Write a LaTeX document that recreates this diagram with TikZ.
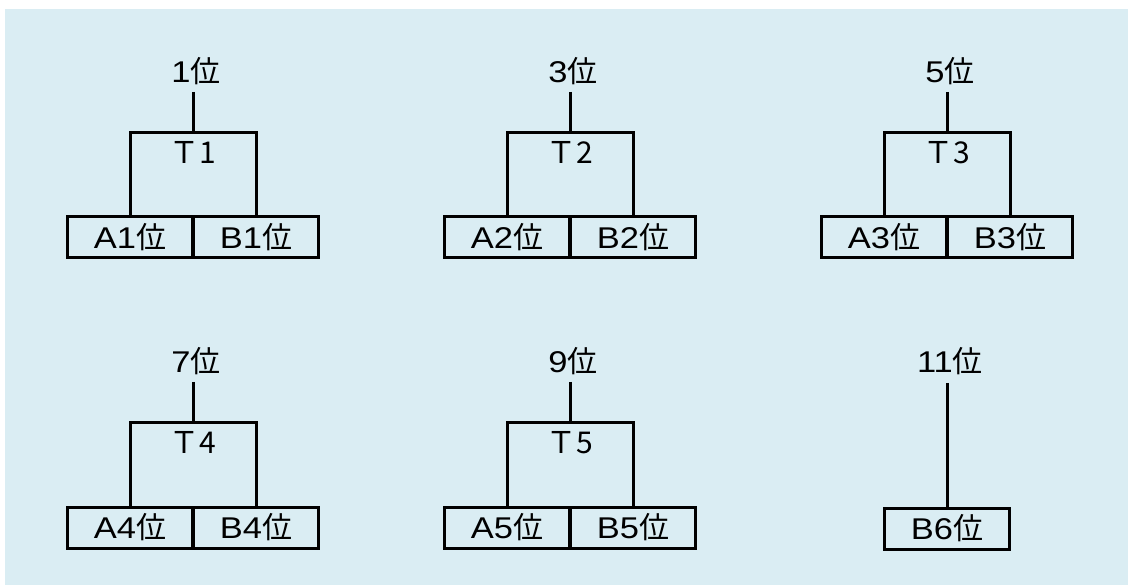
\documentclass[tikz,border=0pt]{standalone}
\usepackage{fontspec}
\setmainfont{Liberation Sans}[FakeStretch=1.15]
\newfontfamily\jp{Noto Sans CJK JP}
\definecolor{bgblue}{RGB}{218,237,243}
\tikzset{
  lbl/.style={inner sep=0pt, text height=21.5pt, text depth=0pt, font=\fontsize{30}{33}\selectfont},
  cell/.style={draw, line width=3pt, minimum width=125.5pt, minimum height=41pt, inner sep=0pt,
    text height=21.5pt, text depth=0pt, font=\fontsize{30}{33}\selectfont},
  wire/.style={line width=3pt},
}
\begin{document}
\begin{tikzpicture}[x=1pt,y=-1pt]
\useasboundingbox (0,0) rectangle (1128,585);
\fill[bgblue] (5,9) rectangle (1128,585);
\foreach \n/\cx/\oy/\rk in {1/193/0/1, 2/570/0/3, 3/947/0/5, 4/193/290/7, 5/570/290/9}{
  \node[lbl] (r\n) at (\cx+3,71.5+\oy) {\rk{\jp 位}};
  \coordinate (rt\n) at (\cx,92+\oy);
  \coordinate (t\n) at (\cx,133+\oy);
  \node[lbl] (tt\n) at (\cx,152.5+\oy) {\jp Ｔ\n};
  \node[cell] (a\n) at (\cx-63,237.5+\oy) {A\n{\jp 位}};
  \node[cell] (b\n) at (\cx+63,237.5+\oy) {B\n{\jp 位}};
  \draw[wire] (rt\n) -- (t\n);
  \draw[wire] (a\n.north) |- (t\n) -| (b\n.north);
}
\node[lbl] (r6) at (950,361.5) {11{\jp 位}};
\coordinate (rt6) at (947,383);
\node[cell] (b6) at (947,528.5) {B6{\jp 位}};
\draw[wire] (rt6) -- (b6.north);
\end{tikzpicture}
\end{document}
